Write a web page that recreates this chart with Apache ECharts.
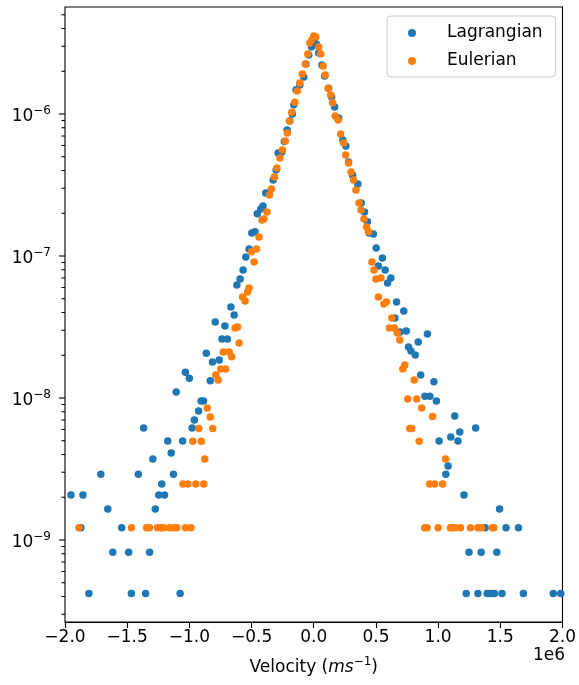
<!DOCTYPE html>
<html><head><meta charset="utf-8">
<script src="https://cdn.jsdelivr.net/npm/echarts/dist/echarts.min.js"></script>
<style>html,body{margin:0;padding:0;background:#fff}#c{width:579px;height:685px}</style>
</head><body><div id="c"></div><script>
// velocities in units of 1e6 m/s
const lagVel = [-1.952,-1.872,-1.856,-1.808,-1.712,-1.656,-1.616,-1.544,-1.488,-1.466,
-1.410,-1.368,-1.352,-1.320,-1.294,-1.274,-1.246,-1.222,-1.200,-1.174,
-1.146,-1.128,-1.106,-1.074,-1.054,-1.032,-1.000,-0.978,-0.960,-0.926,
-0.906,-0.886,-0.864,-0.832,-0.814,-0.792,-0.760,-0.738,-0.714,-0.694,
-0.666,-0.640,-0.618,-0.592,-0.568,-0.546,-0.520,-0.498,-0.472,-0.454,
-0.426,-0.408,-0.386,-0.360,-0.326,-0.302,-0.286,-0.256,-0.236,-0.214,
-0.192,-0.172,-0.160,-0.142,-0.112,-0.080,-0.062,-0.040,-0.018,0.000,
0.020,0.040,0.066,0.088,0.120,0.144,0.168,0.200,0.234,0.258,
0.280,0.312,0.354,0.382,0.408,0.432,0.446,0.480,0.502,0.520,
0.552,0.574,0.594,0.620,0.652,0.666,0.694,0.724,0.744,0.762,
0.782,0.816,0.840,0.860,0.894,0.914,0.934,0.966,0.986,1.008,
1.062,1.080,1.102,1.134,1.160,1.174,1.208,1.226,1.248,1.302,
1.320,1.346,1.378,1.394,1.414,1.432,1.454,1.472,1.494,1.514,
1.546,1.646,1.686,1.926,1.986];
const lagPdf = [2.07e-9,1.22e-9,2.07e-9,4.2e-10,2.9e-9,1.65e-9,8.2e-10,1.22e-9,8.2e-10,4.2e-10,
2.9e-9,6.15e-9,4.2e-10,8.2e-10,3.72e-9,1.65e-9,2.07e-9,2.48e-9,2.07e-9,4.98e-9,
4.1e-9,2.9e-9,1.1e-8,4.2e-10,4.98e-9,1.52e-8,1.38e-8,6.15e-9,7.0e-9,8.1e-9,
9.53e-9,9.53e-9,2.07e-8,1.32e-8,1.79e-8,3.43e-8,1.85e-8,2.6e-8,3.21e-8,2.6e-8,
4.38e-8,3.84e-8,6.25e-8,6.89e-8,7.97e-8,9.84e-8,1.12e-7,1.45e-7,1.48e-7,1.98e-7,
2.14e-7,2.25e-7,2.78e-7,2.78e-7,3.43e-7,4.03e-7,5.31e-7,5.4e-7,6.4e-7,7.71e-7,
8.93e-7,1.0e-6,1.16e-6,1.48e-6,1.6e-6,1.82e-6,2.25e-6,2.6e-6,2.96e-6,3.27e-6,
3.11e-6,2.69e-6,2.21e-6,1.85e-6,1.52e-6,1.32e-6,1.12e-6,9.37e-7,6.56e-7,5.96e-7,
4.59e-7,3.72e-7,3.21e-7,2.36e-7,2.04e-7,1.74e-7,1.45e-7,1.43e-7,1.14e-7,8.51e-8,
9.68e-8,7.97e-8,6.46e-8,7.0e-8,3.66e-8,4.74e-8,2.92e-8,4.1e-8,2.96e-8,2.29e-8,
2.14e-8,2.01e-8,2.48e-8,1.45e-8,1.03e-8,2.82e-8,1.03e-8,1.3e-8,9.53e-9,4.98e-9,
2.9e-9,3.32e-9,5.31e-9,7.47e-9,4.98e-9,5.77e-9,2.07e-9,4.2e-10,8.2e-10,6.15e-9,
4.2e-10,8.2e-10,1.22e-9,4.2e-10,4.2e-10,4.2e-10,4.2e-10,8.2e-10,1.65e-9,4.2e-10,
1.22e-9,1.22e-9,4.2e-10,4.2e-10,4.2e-10];
const eulVel = [-1.888,-1.466,-1.344,-1.320,-1.256,-1.228,-1.208,-1.160,-1.120,-1.100,
-1.052,-1.032,-1.012,-0.988,-0.972,-0.948,-0.924,-0.904,-0.884,-0.876,
-0.856,-0.832,-0.812,-0.788,-0.768,-0.748,-0.728,-0.708,-0.680,-0.660,
-0.632,-0.612,-0.600,-0.572,-0.552,-0.532,-0.520,-0.500,-0.480,-0.460,
-0.440,-0.416,-0.400,-0.376,-0.356,-0.340,-0.316,-0.296,-0.272,-0.252,
-0.228,-0.212,-0.196,-0.176,-0.152,-0.132,-0.112,-0.092,-0.068,-0.048,
-0.032,-0.016,0.000,
0.016,0.040,0.056,0.076,0.092,0.116,0.136,0.152,0.172,0.196,
0.216,0.240,0.256,0.280,0.300,0.320,0.340,0.364,0.380,0.404,
0.424,0.440,0.468,0.484,0.500,0.520,0.540,0.564,0.584,0.608,
0.628,0.648,0.672,0.692,0.716,0.732,0.756,0.772,0.788,0.808,
0.828,0.848,0.868,0.892,0.912,0.932,0.956,0.972,1.000,1.036,
1.060,1.100,1.120,1.140,1.180,1.260,1.320,1.348,1.436,1.448];
const eulPdf = [1.22e-9,1.22e-9,1.22e-9,1.22e-9,1.22e-9,1.22e-9,1.22e-9,1.22e-9,1.22e-9,1.22e-9,
2.48e-9,1.22e-9,2.48e-9,1.22e-9,4.95e-9,2.48e-9,6.1e-9,4.95e-9,2.48e-9,3.72e-9,
8.5e-9,7.35e-9,6.1e-9,1.45e-8,1.34e-8,1.6e-8,2.11e-8,1.6e-8,2.11e-8,1.95e-8,
3.11e-8,3.16e-8,2.44e-8,5.14e-8,4.82e-8,5.58e-8,5.96e-8,1.07e-7,9.08e-8,1.12e-7,
1.36e-7,1.79e-7,1.82e-7,2.04e-7,2.69e-7,2.96e-7,3.6e-7,4.17e-7,4.9e-7,5.58e-7,
6.46e-7,7.35e-7,8.93e-7,1.03e-6,1.21e-6,1.45e-6,1.65e-6,1.91e-6,2.25e-6,2.65e-6,
3.16e-6,3.32e-6,3.54e-6,
3.49e-6,2.96e-6,2.65e-6,2.18e-6,1.88e-6,1.52e-6,1.36e-6,1.2e-6,9.68e-7,9.08e-7,
7.23e-7,6.25e-7,5.14e-7,4.52e-7,3.91e-7,3.43e-7,2.92e-7,2.36e-7,2.11e-7,1.82e-7,
1.6e-7,1.48e-7,9.08e-8,7.97e-8,6.89e-8,5.14e-8,7.0e-8,4.59e-8,4.74e-8,3.11e-8,
3.66e-8,3.11e-8,2.87e-8,2.56e-8,1.6e-8,1.71e-8,9.84e-9,6.1e-9,6.1e-9,1.34e-8,
9.84e-9,4.95e-9,8.5e-9,1.22e-9,1.22e-9,2.48e-9,7.4e-9,2.48e-9,1.22e-9,2.48e-9,
3.72e-9,1.22e-9,1.22e-9,1.22e-9,1.22e-9,1.22e-9,1.22e-9,1.22e-9,1.22e-9,1.22e-9];
const seriesNames = ['Lagrangian','Eulerian'];
const colors = ['#1f77b4','#ff7f0e'];
const xMin = -2, xMax = 2, xStep = 0.5;
const yMin = 2.645e-10, yMax = 5.67e-6;
const yTickExp = [-9,-8,-7,-6];

const FONT = 'DejaVu Sans';
const zip = (a,b) => a.map((v,i)=>[v,b[i]]);
const chart = echarts.init(document.getElementById('c'));
chart.setOption({
  animation:false,
  backgroundColor:'#fff',
  grid:{left:65, top:7, width:500, height:615, show:true, borderColor:'#000', borderWidth:1.1, backgroundColor:'#fff'},
  xAxis:{type:'value', min:xMin, max:xMax, interval:xStep,
    axisLine:{show:true, lineStyle:{color:'#000', width:1.1}},
    axisTick:{show:true, inside:false, length:6, lineStyle:{color:'#000', width:1.1}},
    splitLine:{show:false},
    axisLabel:{margin:7, fontFamily:FONT, fontSize:17, color:'#000',
      formatter:v => (v<0?'\u2212':'') + Math.abs(v).toFixed(1)},
    name:'{n|Velocity (}{i|ms}{s|\u22121}{n|)}', nameLocation:'middle', nameGap:34,
    nameTextStyle:{rich:{
      n:{fontFamily:FONT, fontSize:17, color:'#000', lineHeight:24},
      i:{fontFamily:FONT, fontSize:17, fontStyle:'italic', color:'#000', lineHeight:24},
      s:{fontFamily:FONT, fontSize:12, color:'#000', lineHeight:12, verticalAlign:'top'}}}
  },
  yAxis:{type:'log', logBase:10, min:yMin, max:yMax,
    axisLine:{show:false}, axisTick:{show:false}, axisLabel:{show:false}, splitLine:{show:false}},
  legend:{orient:'vertical', left:387, top:16, padding:[7,13,6,21], itemWidth:8, itemHeight:8, itemGap:8,
    icon:'circle', backgroundColor:'rgba(255,255,255,0.8)', borderColor:'#cccccc', borderWidth:1, borderRadius:4,
    textStyle:{fontFamily:FONT, fontSize:17, color:'#000', lineHeight:20, padding:[0,0,0,26]},
    data:seriesNames},
  series:[
    {name:seriesNames[0], type:'scatter', data:zip(lagVel, lagPdf), symbol:'circle', symbolSize:7.5,
      itemStyle:{color:colors[0], opacity:1}, emphasis:{disabled:true}, clip:true},
    {name:seriesNames[1], type:'scatter', data:zip(eulVel, eulPdf), symbol:'circle', symbolSize:7.5,
      itemStyle:{color:colors[1], opacity:1}, emphasis:{disabled:true}, clip:true}
  ]
});

const els = [];
const x0 = 65;
for (let e = -10; e <= -5; e++) {
  for (let m = 1; m <= 9; m++) {
    const v = m * Math.pow(10, e);
    if (v < yMin || v > yMax) continue;
    const y = chart.convertToPixel({yAxisIndex:0}, v);
    const len = m === 1 ? 6 : 3.5;
    els.push({type:'line', silent:true, shape:{x1:x0-len, y1:y, x2:x0, y2:y}, style:{stroke:'#000', lineWidth:1.1}});
  }
}
yTickExp.forEach(e => {
  const y = chart.convertToPixel({yAxisIndex:0}, Math.pow(10, e));
  els.push({type:'text', silent:true, x:51, y:y+3, style:{
    text:'{b|10}{s|\u2212' + Math.abs(e) + '}', align:'right', verticalAlign:'middle',
    rich:{b:{fontFamily:FONT, fontSize:17, fill:'#000', lineHeight:24},
          s:{fontFamily:FONT, fontSize:12, fill:'#000', lineHeight:12, verticalAlign:'top'}}}});
});
els.push({type:'text', silent:true, x:565, y:656, style:{text:'1e6', align:'right', verticalAlign:'middle',
  fontFamily:FONT, fontSize:17, fill:'#000'}});
chart.setOption({graphic:els});
</script></body></html>
